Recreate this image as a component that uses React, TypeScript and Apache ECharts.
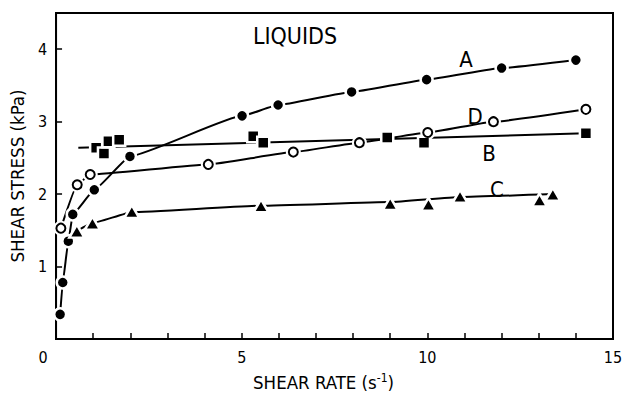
import React, { useEffect, useRef } from "react";
import * as echarts from "echarts";

// ---- data ----
// Curve A (filled circles)
const rateA = [0.11, 0.18, 0.33, 0.45, 1.03, 1.99, 5.01, 5.98, 7.96, 9.98, 12.0, 14.0];
const stressA = [0.34, 0.78, 1.35, 1.72, 2.06, 2.52, 3.08, 3.23, 3.41, 3.58, 3.74, 3.85];
// Curve B (filled squares) + its straight fitted line
const rateB = [1.08, 1.29, 1.41, 1.7, 5.31, 5.58, 8.92, 9.91, 14.27];
const stressB = [2.64, 2.56, 2.73, 2.75, 2.8, 2.71, 2.78, 2.71, 2.84];
const fitRateB = [0.6, 14.27];
const fitStressB = [2.64, 2.84];
// Curve C (filled triangles) + fitted curve
const rateC = [0.56, 0.98, 2.04, 5.52, 9.0, 10.03, 10.88, 13.02, 13.38];
const stressC = [1.49, 1.6, 1.76, 1.84, 1.87, 1.86, 1.97, 1.92, 2.0];
const fitRateC = [0.56, 0.98, 2.04, 5.52, 9.0, 10.88, 13.38];
const fitStressC = [1.49, 1.6, 1.75, 1.84, 1.89, 1.96, 2.0];
// Curve D (open circles)
const rateD = [0.13, 0.57, 0.92, 4.1, 6.39, 8.17, 10.01, 11.78, 14.27];
const stressD = [1.53, 2.13, 2.27, 2.41, 2.58, 2.71, 2.85, 3.0, 3.17];

const xTickLabels = ["0", "5", "10", "15"];
const yTickLabels = ["1", "2", "3", "4"];
const curveNames = ["A", "B", "C", "D"];
const titleText = "LIQUIDS";
const xTitle = "SHEAR RATE (s";
const xTitleSup = "-1";
const yTitle = "SHEAR STRESS (kPa)";

const FONT = "'DejaVu Sans Condensed', 'DejaVu Sans', sans-serif";
const pair = (xs: number[], ys: number[]) => xs.map((x, i) => [x, ys[i]]);

export default function App() {
  const ref = useRef<HTMLDivElement>(null);
  useEffect(() => {
    if (!ref.current) return;
    const chart = echarts.init(ref.current, undefined, { renderer: "svg" });
    const lineStyle = { color: "#000", width: 2 };
    const curve = (name: string, data: number[][]) => ({
      name,
      type: "line",
      data,
      showSymbol: false,
      symbol: "none",
      smooth: 0.12,
      smoothMonotone: "x",
      lineStyle,
      z: 2,
      silent: true,
    });
    const marks = (name: string, data: number[][], symbol: string, size: number | number[]) => ({
      name,
      type: "scatter",
      data,
      symbol,
      symbolSize: size,
      itemStyle: { color: "#000", borderColor: "#fff", borderWidth: 2.5, opacity: 1 },
      z: 4,
      silent: true,
    });
    const option: any = {
      animation: false,
      backgroundColor: "#fff",
      textStyle: { fontFamily: FONT, color: "#000" },
      grid: {
        left: 56,
        right: 15,
        top: 13,
        bottom: 50,
        show: true,
        borderColor: "#000",
        borderWidth: 2,
        backgroundColor: "transparent",
      },
      xAxis: {
        type: "value",
        min: 0,
        max: 15,
        interval: 1,
        axisLine: { show: true, lineStyle: { color: "#000", width: 2 } },
        axisTick: { show: true, inside: true, length: 6, lineStyle: { color: "#000", width: 1.5 } },
        splitLine: { show: false },
        axisLabel: {
          color: "#000",
          fontFamily: FONT,
          fontSize: 16,
          margin: 10,
          formatter: (v: number) => {
            const s = String(v);
            if (!xTickLabels.includes(s)) return "";
            return v === 0 ? "{z|" + s + "}" : s;
          },
          rich: { z: { padding: [0, 26, 0, 0], fontSize: 16, fontFamily: FONT, color: "#000" } },
        },
        name: "{m|" + xTitle + "}{s|" + xTitleSup + "}{m|)}",
        nameLocation: "middle",
        nameGap: 33,
        nameTextStyle: {
          padding: [0, 22, 0, 0],
          rich: {
            m: { fontSize: 18.5, fontFamily: FONT, color: "#000" },
            s: { fontSize: 12, fontFamily: FONT, color: "#000", padding: [0, 0, 9, 0] },
          },
        },
      },
      yAxis: {
        type: "value",
        min: 0,
        max: 4.5,
        interval: 1,
        axisLine: { show: true, lineStyle: { color: "#000", width: 2 } },
        axisTick: { show: true, inside: true, length: 6, lineStyle: { color: "#000", width: 1.5 } },
        splitLine: { show: false },
        axisLabel: {
          color: "#000",
          fontFamily: FONT,
          fontSize: 16,
          margin: 9,
          formatter: (v: number) => (yTickLabels.includes(String(v)) ? String(v) : ""),
        },
        name: yTitle,
        nameLocation: "middle",
        nameGap: 25,
        nameTextStyle: { fontSize: 18.5, fontFamily: FONT, color: "#000" },
      },
      series: [
        curve("A", pair(rateA, stressA)),
        curve("B", pair(fitRateB, fitStressB)),
        curve("C", pair(fitRateC, fitStressC)),
        curve("D", pair(rateD, stressD)),
        marks("A", pair(rateA, stressA), "circle", 12),
        marks("B", pair(rateB, stressB), "rect", 12),
        marks("C", pair(rateC, stressC), "triangle", [15, 13]),
        {
          name: "D-gap",
          type: "scatter",
          data: pair(rateD, stressD),
          symbol: "circle",
          symbolSize: 15,
          itemStyle: { color: "#fff", opacity: 1 },
          z: 3,
          silent: true,
        },
        {
          name: "D",
          type: "scatter",
          data: pair(rateD, stressD),
          symbol: "circle",
          symbolSize: 9,
          itemStyle: { color: "#fff", borderColor: "#000", borderWidth: 2, opacity: 1 },
          z: 4,
          silent: true,
        },
      ],
      graphic: [
        {
          type: "text",
          x: 295,
          y: 36,
          style: { text: titleText, font: "23px " + FONT, fill: "#000", align: "center", verticalAlign: "middle" },
        },
        {
          type: "text",
          x: 466,
          y: 59,
          style: { text: curveNames[0], font: "22px " + FONT, fill: "#000", align: "center", verticalAlign: "middle" },
        },
        {
          type: "text",
          x: 489,
          y: 153,
          style: { text: curveNames[1], font: "22px " + FONT, fill: "#000", align: "center", verticalAlign: "middle" },
        },
        {
          type: "text",
          x: 497,
          y: 189,
          style: { text: curveNames[2], font: "22px " + FONT, fill: "#000", align: "center", verticalAlign: "middle" },
        },
        {
          type: "text",
          x: 475,
          y: 116,
          style: { text: curveNames[3], font: "22px " + FONT, fill: "#000", align: "center", verticalAlign: "middle" },
        },
      ],
    };
    chart.setOption(option);
    return () => chart.dispose();
  }, []);
  return <div ref={ref} style={{ width: 628, height: 397, position: "absolute", left: 0, top: 0 }} />;
}
